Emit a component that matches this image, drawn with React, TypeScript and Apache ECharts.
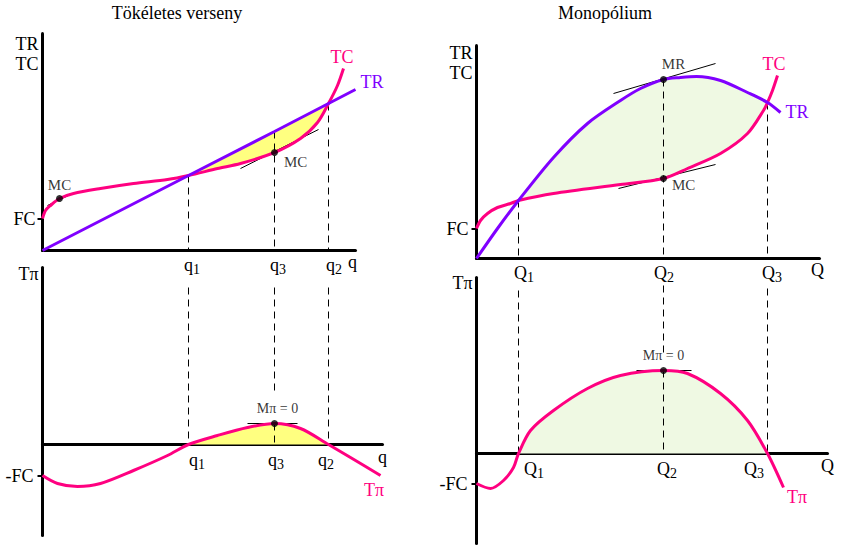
import React, { useEffect, useRef } from 'react';
import * as echarts from 'echarts';

// ---------- Data: Tökéletes verseny (perfect competition) ----------
const qComp = [146, 232, 286]; // q1, q3, q2
const qCompSubs = ['1', '3', '2'];
const trComp: number[][] = [[0, 0], [146, 75], [232, 119], [286, 147], [313, 161]];
const tcComp: number[][] = [
  [0, 32], [3, 40], [8, 45], [17, 52], [31, 57], [58, 62], [91, 67], [125, 71], [146, 75],
  [175, 82], [198, 87], [232, 98], [258, 112], [275, 128], [286, 147], [295, 165], [301, 182],
];
const profitComp: number[][] = [
  [0, -31], [15, -39], [35, -42], [58, -39], [91, -26], [125, -11], [146, 0], [175, 9],
  [205, 17], [232, 21], [258, 16], [286, 0], [308, -13], [338, -31],
];
const fcComp = 32;
const mcSmallQ = 17;
const tangentCompSmall: number[][] = [[5, 45], [30, 57]];
const tangentCompQ3: number[][] = [[198, 82], [276, 121]];
const tangentProfitComp: number[][] = [[205, 21], [255, 21]];

// ---------- Data: Monopólium ----------
const qMono = [42, 187, 291]; // Q1, Q2, Q3
const qMonoSubs = ['1', '2', '3'];
const trMono: number[][] = [
  [0, 0], [21, 30], [42, 58], [77, 101], [111, 135], [144, 158], [164, 170], [187, 179],
  [204, 181], [220, 182], [244, 178], [271, 166], [291, 156], [304, 146],
];
const tcMono: number[][] = [
  [0, 30], [4, 38], [11, 45], [21, 51], [34, 55], [42, 58], [77, 65], [144, 74], [187, 80],
  [211, 90], [244, 105], [271, 125], [287, 148], [291, 156], [296, 168], [301, 183],
];
const profitMono: number[][] = [
  [0, -30], [14, -35], [27, -27], [37, -14], [42, 0], [54, 23], [77, 43], [111, 65], [144, 78],
  [187, 83], [211, 80], [244, 60], [271, 33], [291, 0], [307, -34],
];
const fcMono = 30;
const tangentMR: number[][] = [[137, 165], [239, 195]];
const tangentMC: number[][] = [[142, 70], [239, 94]];
const tangentProfitMono: number[][] = [[160, 83], [215, 83]];

const FONT = '"Liberation Serif", "Times New Roman", serif';
const PINK = '#FF0080';
const PURPLE = '#8000FF';
const YELLOW = '#FFFF80';
const GREEN = '#EFF9E3';
const SUBW = 7;

const at = (arr: number[][], x: number) => {
  const p = arr.find((d) => d[0] === x);
  return p ? p[1] : 0;
};
const between = (arr: number[][], a: number, b: number) => arr.filter((p) => p[0] >= a && p[0] <= b);

function makeXAxis(gridIndex: number, max: number, base: string, qs: number[], subs: string[], shifts: number[], endShift: number, margin: number, offset: number) {
  const rich: any = {};
  qs.forEach((_, i) => {
    const d = 2 * shifts[i] + SUBW;
    rich['b' + i] = { fontSize: 18, fontFamily: FONT, color: '#000', padding: [0, 0, 0, d > 0 ? d : 0] };
    rich['s' + i] = { fontSize: 14, fontFamily: FONT, color: '#000', padding: [10, d < 0 ? -d : 0, 0, 0] };
  });
  rich.e = { fontSize: 18, fontFamily: FONT, color: '#000', padding: [0, endShift < 0 ? -2 * endShift : 0, 0, endShift > 0 ? 2 * endShift : 0] };
  return {
    type: 'value', gridIndex, min: 0, max, offset,
    axisLine: { onZero: false, lineStyle: { color: '#000', width: 3 } },
    axisTick: { show: false },
    splitLine: { show: false },
    axisLabel: {
      customValues: [...qs, max], margin,
      formatter: (v: number) => {
        const i = qs.indexOf(v);
        return i >= 0 ? `{b${i}|${base}}{s${i}|${subs[i]}}` : `{e|${base}}`;
      },
      rich,
    },
  };
}

function makeYAxis(gridIndex: number, min: number, max: number, fc: number, fcText: string, margin: number, name: string, nameGap: number) {
  return {
    type: 'value', gridIndex, min, max,
    axisLine: { onZero: false, lineStyle: { color: '#000', width: 3 } },
    axisTick: { show: true, customValues: [fc], length: 5, lineStyle: { color: '#000', width: 2 } },
    axisLabel: { customValues: [fc], margin, formatter: () => fcText, color: '#000', fontSize: 18, fontFamily: FONT },
    splitLine: { show: false },
    name, nameLocation: 'end', nameGap,
    nameTextStyle: { align: 'right', verticalAlign: 'top', fontSize: 18, fontFamily: FONT, color: '#000', lineHeight: 20, padding: [0, 4, 0, 0] },
  };
}

const dashed = (g: number, x: number, y1: number, y2: number) => ({
  type: 'line', xAxisIndex: g, yAxisIndex: g, data: [[x, y1], [x, y2]], symbol: 'none', silent: true, z: 3,
  lineStyle: { color: '#000', width: 1, type: [7, 5] },
});
const thin = (g: number, pts: number[][]) => ({
  type: 'line', xAxisIndex: g, yAxisIndex: g, data: pts, symbol: 'none', silent: true, z: 3,
  lineStyle: { color: '#000', width: 1 },
});
const curve = (g: number, pts: number[][], color: string, smooth: number | boolean) => ({
  type: 'line', xAxisIndex: g, yAxisIndex: g, data: pts, symbol: 'none', silent: true, z: 4, clip: false,
  smooth, lineStyle: { color, width: 3 },
});
const area = (g: number, pts: number[][], color: string) => ({
  type: 'line', xAxisIndex: g, yAxisIndex: g, data: pts, symbol: 'none', silent: true, z: 1,
  smooth: 0.3, lineStyle: { width: 0 }, areaStyle: { color, opacity: 1, origin: 0 },
});
const between2 = (g: number, upper: number[][], lower: number[][], color: string) => ({
  type: 'custom', xAxisIndex: g, yAxisIndex: g, data: [[0, 0]], silent: true, z: 1,
  renderItem: (_p: any, api: any) => ({
    type: 'polygon',
    shape: { points: [...upper, ...lower.slice().reverse()].map((p) => api.coord(p)) },
    style: { fill: color },
  }),
});
const dotLabel = { show: true, color: '#000', fontSize: 15, fontFamily: FONT };
const dots = (g: number, items: any[]) => ({
  type: 'scatter', xAxisIndex: g, yAxisIndex: g, symbol: 'circle', symbolSize: 7, z: 5, silent: true,
  itemStyle: { color: '#000' }, data: items,
});
const txt = (x: number, y: number, text: string, color = '#000', fontSize = 18) => ({
  type: 'text', x, y, style: { text, fill: color, fontSize, fontFamily: FONT, align: 'center', verticalAlign: 'middle' },
});

export default function App() {
  const ref = useRef<HTMLDivElement>(null);
  useEffect(() => {
    if (!ref.current) return;
    const chart = echarts.init(ref.current, null, { renderer: 'svg' });
    const [q1, q3, q2] = qComp;
    const [Q1, Q2, Q3] = qMono;
    const gridBase = { containLabel: false, outerBoundsMode: 'none' };
    const option: any = {
      animation: false,
      backgroundColor: '#fff',
      grid: [
        { ...gridBase, left: 42.5, top: 33.5, width: 313, height: 217 },
        { ...gridBase, left: 42.5, top: 267.5, width: 340, height: 268 },
        { ...gridBase, left: 476.5, top: 45.5, width: 343, height: 213 },
        { ...gridBase, left: 476.5, top: 277.5, width: 351, height: 266 },
      ],
      xAxis: [
        makeXAxis(0, 313, 'q', qComp, qCompSubs, [0, 0, 2], -3, 2, 0),
        makeXAxis(1, 340, 'q', qComp, qCompSubs, [5, -2, -6], 0, 3, -91),
        makeXAxis(2, 343, 'Q', qMono, qMonoSubs, [2, -3, 1], -2, 2, 0),
        makeXAxis(3, 351, 'Q', qMono, qMonoSubs, [12, 0, -17], 0, 3, -90),
      ],
      yAxis: [
        makeYAxis(0, 0, 217, fcComp, 'FC', 7, 'TR\nTC', 0),
        makeYAxis(1, -91, 177, at(profitComp, 0), '-FC', 9, 'Tπ', 4),
        makeYAxis(2, 0, 213, fcMono, 'FC', 8, 'TR\nTC', 3),
        makeYAxis(3, -90, 176, at(profitMono, 0), '-FC', 9, 'Tπ', 5),
      ],
      series: [
        // fills
        between2(0, between(trComp, q1, q2), between(tcComp, q1, q2), YELLOW),
        area(1, between(profitComp, q1, q2), YELLOW),
        between2(2, between(trMono, Q1, Q3), between(tcMono, Q1, Q3), GREEN),
        area(3, between(profitMono, Q1, Q3), GREEN),
        // dashed guides
        ...qComp.map((q) => dashed(0, q, at(trComp, q), 0)),
        dashed(1, q1, 157, 0), dashed(1, q3, 157, 54), dashed(1, q3, at(profitComp, q3), 0), dashed(1, q2, 157, 0),
        ...qMono.map((q) => dashed(2, q, at(trMono, q), 0)),
        dashed(3, Q1, 163, 0), dashed(3, Q2, 168, 96), dashed(3, Q2, at(profitMono, Q2), 0), dashed(3, Q3, 165, 0),
        // tangents
        thin(0, tangentCompSmall), thin(0, tangentCompQ3), thin(1, tangentProfitComp),
        thin(2, tangentMR), thin(2, tangentMC), thin(3, tangentProfitMono),
        // curves
        curve(0, tcComp, PINK, 0.3),
        curve(0, trComp, PURPLE, false),
        curve(1, profitComp, PINK, 0.3),
        curve(2, tcMono, PINK, 0.3),
        curve(2, trMono, PURPLE, 0.3),
        curve(3, profitMono, PINK, 0.3),
        // points
        dots(0, [
          { value: [mcSmallQ, at(tcComp, mcSmallQ)], label: { ...dotLabel, position: 'top', distance: 3, formatter: 'MC' } },
          { value: [q3, at(tcComp, q3)], label: { ...dotLabel, position: 'right', distance: 6, offset: [0, 9], formatter: 'MC' } },
        ]),
        dots(1, [
          { value: [q3, at(profitComp, q3)], label: { ...dotLabel, fontSize: 14, position: 'top', distance: 5, offset: [3, 0], formatter: 'Mπ = 0' } },
        ]),
        dots(2, [
          { value: [Q2, at(trMono, Q2)], label: { ...dotLabel, position: 'top', distance: 5, offset: [10, 0], formatter: 'MR' } },
          { value: [Q2, at(tcMono, Q2)], label: { ...dotLabel, position: 'right', distance: 5, offset: [0, 6], formatter: 'MC' } },
        ]),
        dots(3, [
          { value: [Q2, at(profitMono, Q2)], label: { ...dotLabel, fontSize: 14, position: 'top', distance: 5, formatter: 'Mπ = 0' } },
        ]),
      ],
      graphic: [
        txt(177, 13, 'Tökéletes verseny'),
        txt(605, 13, 'Monopólium'),
        txt(342, 57, 'TC', PINK),
        txt(372, 82, 'TR', PURPLE),
        txt(374, 490, 'Tπ', PINK),
        txt(774, 64, 'TC', PINK),
        txt(797, 112, 'TR', PURPLE),
        txt(797, 497, 'Tπ', PINK),
      ],
    };
    chart.setOption(option);
    return () => chart.dispose();
  }, []);
  return <div ref={ref} style={{ position: 'fixed', left: 0, top: 0, width: 868, height: 554, background: '#fff' }} />;
}
